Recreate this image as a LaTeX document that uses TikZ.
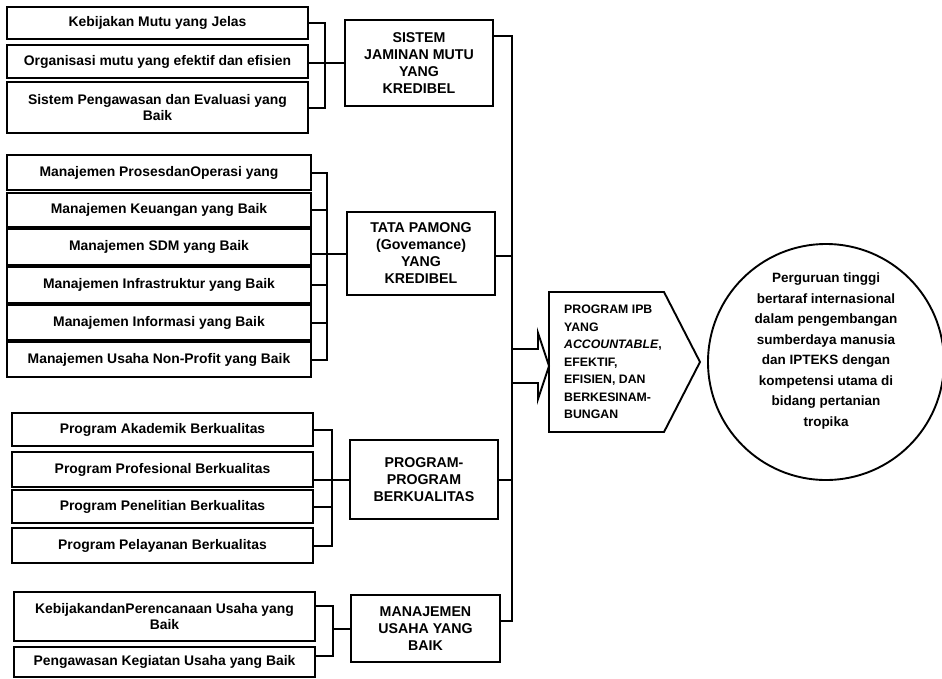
\documentclass[tikz,border=0pt]{standalone}
\usepackage{fontspec}
\setmainfont{Liberation Sans}
\usetikzlibrary{shapes.geometric,calc}
\begin{document}
\begin{tikzpicture}[x=1pt,y=-1pt,
  subbox/.style={draw, line width=2pt, inner sep=0pt, align=center,
    font=\bfseries\fontsize{13.9}{16.5}\selectfont},
  mainbox/.style={draw, line width=2.2pt, inner sep=0pt, align=center,
    minimum width=148pt, font=\bfseries\fontsize{14.2}{17}\selectfont},
  conn/.style={line width=2pt},
  shapeline/.style={line width=1.9pt, line join=miter}]
\useasboundingbox (0,0) rectangle (942,678);

% ---------- Group 1 ----------
\node[subbox, minimum width=301pt, minimum height=32pt] (b11) at (157.5,23) {Kebijakan Mutu yang Jelas};
\node[subbox, minimum width=301pt, minimum height=33pt] (b12) at (157.5,61.5) {Organisasi mutu yang efektif dan efisien};
\node[subbox, minimum width=301pt, minimum height=51pt] (b13) at (157.5,107.5) {Sistem Pengawasan dan Evaluasi yang\\Baik};
\node[mainbox, minimum height=86pt] (sistem) at (419,63) {SISTEM\\JAMINAN MUTU\\YANG\\KREDIBEL};
\coordinate (k1) at (325,0);
\draw[conn] (b11.east) -- (b11.east -| k1) -- (b13.east -| k1) -- (b13.east);
\draw[conn] (sistem.west) -- (sistem.west -| b12.east);

% ---------- Group 2 ----------
\node[subbox, minimum width=304pt, minimum height=35pt] (b21) at (159,172.5) {Manajemen ProsesdanOperasi yang};
\node[subbox, minimum width=304pt, minimum height=34pt] (b22) at (159,210) {Manajemen Keuangan yang Baik};
\node[subbox, minimum width=304pt, minimum height=36pt] (b23) at (159,247) {Manajemen SDM yang Baik};
\node[subbox, minimum width=304pt, minimum height=36pt] (b24) at (159,285) {Manajemen Infrastruktur yang Baik};
\node[subbox, minimum width=304pt, minimum height=35pt] (b25) at (159,322.5) {Manajemen Informasi yang Baik};
\node[subbox, minimum width=304pt, minimum height=35pt] (b26) at (159,359.5) {Manajemen Usaha Non-Profit yang Baik};
\node[mainbox, minimum height=83pt] (tata) at (421,253.5) {TATA PAMONG\\(Govemance)\\YANG\\KREDIBEL};
\coordinate (k2) at (327,0);
\draw[conn] (b21.east) -- (b21.east -| k2) -- (b26.east -| k2) -- (b26.east);
\draw[conn] (b22.east) -- (b22.east -| k2);
\draw[conn] (b24.east) -- (b24.east -| k2);
\draw[conn] (b25.east) -- (b25.east -| k2);
\draw[conn] (tata.west) -- (tata.west -| b23.east);

% ---------- Group 3 ----------
\node[subbox, minimum width=301pt, minimum height=33pt] (b31) at (162.5,429.5) {Program Akademik Berkualitas};
\node[subbox, minimum width=301pt, minimum height=35pt] (b32) at (162.5,469.5) {Program Profesional Berkualitas};
\node[subbox, minimum width=301pt, minimum height=33pt] (b33) at (162.5,506.5) {Program Penelitian Berkualitas};
\node[subbox, minimum width=301pt, minimum height=35pt] (b34) at (162.5,545.5) {Program Pelayanan Berkualitas};
\node[mainbox, minimum height=79pt] (prog) at (424,479.5) {PROGRAM-\\PROGRAM\\BERKUALITAS};
\coordinate (k3) at (332,0);
\draw[conn] (b31.east) -- (b31.east -| k3) -- (b34.east -| k3) -- (b34.east);
\draw[conn] (b33.east) -- (b33.east -| k3);
\draw[conn] (prog.west) -- (prog.west -| b32.east);

% ---------- Group 4 ----------
\node[subbox, minimum width=301pt, minimum height=49pt] (b41) at (164.5,616.5) {KebijakandanPerencanaan Usaha yang\\Baik};
\node[subbox, minimum width=301pt, minimum height=30pt] (b42) at (164.5,662) {Pengawasan Kegiatan Usaha yang Baik};
\node[mainbox, minimum width=149pt, minimum height=67pt] (man) at (425.5,628.5) {MANAJEMEN\\USAHA YANG\\BAIK};
\coordinate (k4) at (333,0);
\coordinate (g1) at ($(b41.north east)+(0,15)$);
\coordinate (g2) at ($(b42.north east)+(0,10)$);
\draw[conn] (g1) -- (g1 -| k4) -- (g2 -| k4) -- (g2);
\draw[conn] (man.west) -- (man.west -| k4);

% ---------- Trunk ----------
\coordinate (tr) at (512,0);
\coordinate (s1) at ($(sistem.north east)+(0,17)$);
\coordinate (s2) at ($(tata.north east)+(0,45)$);
\coordinate (s4) at ($(man.north east)+(0,27)$);
\draw[conn] (s1) -- (s1 -| tr) -- (s4 -| tr) -- (s4);
\draw[conn] (s2) -- (s2 -| tr);
\draw[conn] (prog.east) -- (prog.east -| tr);

% ---------- Block arrow ----------
\draw[shapeline] (512,349) -- (538,349) -- (538,333) -- (549,366) -- (538,399) -- (538,383) -- (512,383);

% ---------- Pentagon ----------
\draw[shapeline] (549,292) -- (664,292) -- (700,362) -- (664,432) -- (549,432) -- cycle;
\node[anchor=west, align=left, inner sep=0pt, font=\bfseries\fontsize{12.3}{17.5}\selectfont] (ipb) at (564,362)
  {PROGRAM IPB\\YANG\\\textit{ACCOUNTABLE},\\EFEKTIF,\\EFISIEN, DAN\\BERKESINAM-\\BUNGAN};

% ---------- Goal ellipse ----------
\node[draw, ellipse, line width=1.9pt, minimum width=236pt, minimum height=236pt, inner sep=0pt] (goal) at (826,362) {};
\node[align=center, inner sep=0pt, font=\bfseries\fontsize{13.5}{20.5}\selectfont] (goaltext) at (826,351)
  {Perguruan tinggi\\bertaraf internasional\\dalam pengembangan\\sumberdaya manusia\\dan IPTEKS dengan\\kompetensi utama di\\bidang pertanian\\tropika};
\end{tikzpicture}
\end{document}
